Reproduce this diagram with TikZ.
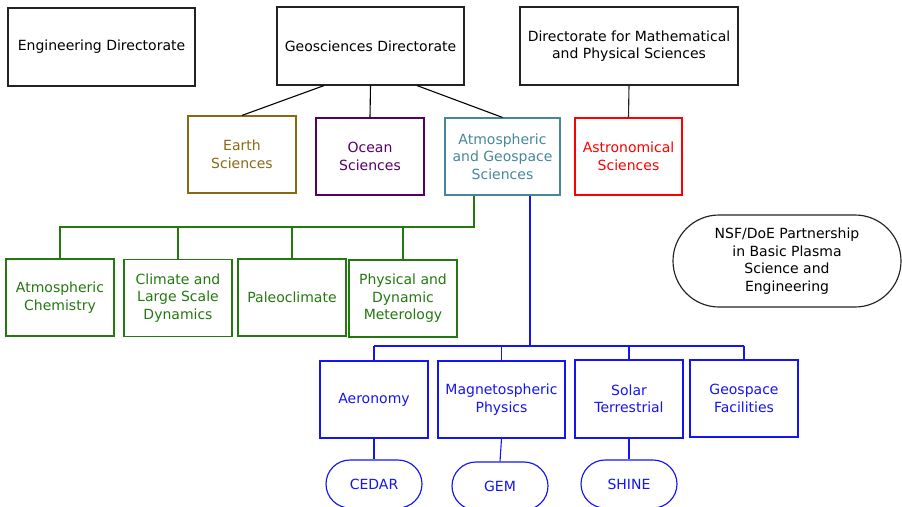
\documentclass[tikz,border=0pt]{standalone}
\usepackage{fontspec}
\setmainfont{DejaVu Sans}
\usepackage{xcolor}

\definecolor{earthbrown}{RGB}{139,105,20}
\definecolor{oceanpurple}{RGB}{85,0,100}
\definecolor{atmosteal}{RGB}{70,135,155}
\definecolor{atmosgreen}{RGB}{35,120,15}
\definecolor{spaceblue}{RGB}{20,20,245}
\definecolor{boxgray}{RGB}{35,35,35}

\begin{document}
\begin{tikzpicture}[
    x=1pt, y=-1pt,
    font=\fontsize{14}{17.5}\selectfont,
    unit/.style={draw, rectangle, align=center, inner sep=0pt, line width=1.15pt, minimum width=108pt, minimum height=77pt},
    directorate/.style={unit, draw=boxgray, minimum height=78pt},
    program/.style={draw, rectangle, rounded corners=24pt, align=center, line width=1.15pt, minimum width=96pt, minimum height=48pt},
    link/.style={line width=1.1pt}
]
    \useasboundingbox (0,0) rectangle (902,506);

    % Place nodes
    \node[directorate, minimum width=187pt] (eng) at (101.5,47) {Engineering Directorate};
    \node[directorate, minimum width=187pt] (geo) at (370.5,46) {Geosciences Directorate};
    \node[directorate, minimum width=218pt] (mps) at (629,46) {Directorate for Mathematical\\and Physical Sciences};

    \node[unit, earthbrown] (earth) at (242,154.5) {Earth\\Sciences};
    \node[unit, oceanpurple] (ocean) at (370,156.5) {Ocean\\Sciences};
    \node[unit, atmosteal, minimum width=115pt] (ags) at (502.5,156.5) {Atmospheric\\and Geospace\\Sciences};
    \node[unit, red, minimum width=107pt] (astro) at (628.5,156.5) {Astronomical\\Sciences};

    \node[draw=boxgray, rectangle, rounded corners=46pt, align=center, line width=1.15pt, minimum width=228pt, minimum height=92pt] (nsf) at (787,261) {NSF/DoE Partnership\\in Basic Plasma\\Science and\\Engineering};

    \node[unit, atmosgreen] (chem) at (60,297.5) {Atmospheric\\Chemistry};
    \node[unit, atmosgreen] (clim) at (178,298) {Climate and\\Large Scale\\Dynamics};
    \node[unit, atmosgreen] (paleo) at (292,297.5) {Paleoclimate};
    \node[unit, atmosgreen] (phys) at (403,298.5) {Physical and\\Dynamic\\Meterology};

    \node[unit, spaceblue] (aero) at (374,399.5) {Aeronomy};
    \node[unit, spaceblue, minimum width=127pt] (magneto) at (501.5,399.5) {Magnetospheric\\Physics};
    \node[unit, spaceblue, minimum height=78pt] (solar) at (629,399) {Solar\\Terrestrial};
    \node[unit, spaceblue] (geof) at (744,398.5) {Geospace\\Facilities};

    \node[program, spaceblue] (cedar) at (374,484) {CEDAR};
    \node[program, spaceblue] (gem) at (500,486) {GEM};
    \node[program, spaceblue] (shine) at (629,484) {SHINE};

    \coordinate (greenbus) at (0,227);
    \coordinate (bluebus) at (0,346);

    % Add connections
    \draw[link] ([xshift=-46.5pt]geo.south) -- (earth.north);
    \draw[link] (geo.south) -- (ocean.north);
    \draw[link] ([xshift=46.5pt]geo.south) -- (ags.north);
    \draw[link, boxgray] (mps.south) -- (astro.north);

    \draw[link, atmosgreen] ([xshift=-28.5pt]ags.south) |- (chem.north |- greenbus) -- (chem.north);
    \foreach \n in {clim, paleo, phys}
        \draw[link, atmosgreen] (\n.north |- greenbus) -- (\n.north);

    \draw[link, spaceblue, line width=1.8pt] ([xshift=27.5pt]ags.south) -- ([xshift=27.5pt]ags.south |- bluebus);
    \draw[link, spaceblue] (aero.north |- bluebus) -- (geof.north |- bluebus);
    \foreach \n in {aero, magneto, solar, geof}
        \draw[link, spaceblue] (\n.north |- bluebus) -- (\n.north);

    \draw[link, spaceblue] (aero.south) -- (cedar.north);
    \draw[link, spaceblue] (magneto.south) -- (gem.north);
    \draw[link, spaceblue] (solar.south) -- (shine.north);
\end{tikzpicture}
\end{document}
